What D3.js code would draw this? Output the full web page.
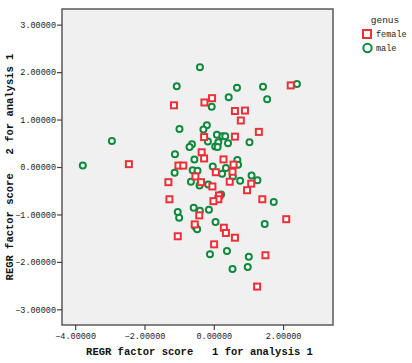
<!DOCTYPE html>
<html lang="en">
<head>
<meta charset="utf-8">
<title>REGR factor scores by genus</title>
<script src="https://d3js.org/d3.v7.min.js"></script>
<style>
  body { margin: 0; background: #fff; }
  .tick text { font-family: "Liberation Mono", "DejaVu Sans Mono", monospace; font-size: 8.5px; fill: #222; }
  .title { font-family: "Liberation Mono", monospace; font-size: 10.5px; font-weight: bold; fill: #111; }
  .legend text { font-family: "Liberation Mono", monospace; font-size: 8.5px; fill: #222; }
</style>
</head>
<body>
<svg class="chart"></svg>
<script>
// factor scores
var femaleX = [-2.45, -1.15, -0.27, -0.05, 2.22, 0.61, 0.90, 0.78, 1.30, 0.61, -0.28, -0.35, -0.28, 0.28,
  -1.02, -0.88, 0.57, 0.06, 0.54, -0.53, -1.31, -0.37, -0.04, 0.46, 1.08, 0.96, 1.40, 0.15, 0.13, -0.01,
  -1.28, -0.42, -0.55, 0.29, 0.35, 0.61, -1.04, 2.09, 0.01, 1.49, 1.25];
var femaleY = [0.06, 1.30, 1.36, 1.45, 1.72, 1.18, 1.19, 0.98, 0.74, 0.64, 0.63, 0.31, 0.18, 0.16,
  0.03, 0.03, 0.05, -0.11, -0.10, -0.20, -0.32, -0.32, -0.41, -0.31, -0.35, -0.49, -0.68, -0.60, -0.68, -0.72,
  -0.68, -1.02, -1.21, -1.28, -1.39, -1.49, -1.46, -1.10, -1.63, -1.86, -2.52];

var maleX = [-3.78, -2.94, -0.40, -1.07, 0.67, 1.42, 2.40, 0.43, 1.54, -0.06, -0.99, -0.20, -0.30, 0.09,
  0.25, 0.33, -0.17, 0.13, 0.41, 1.03, -0.63, -0.70, 0.04, 0.11, -1.12, -0.56, 0.68, 0.70, -0.03, 0.35,
  -0.61, -0.47, -1.13, 0.24, 0.55, 1.09, 0.76, 1.26, -0.66, -0.41, -0.16, 1.73, 0.21, -0.58, -0.40, -0.14,
  -1.04, -1.00, 0.05, -0.53, -0.48, 1.47, -0.11, 0.38, 1.01, 0.54, 0.98];
var maleY = [0.03, 0.55, 2.10, 1.70, 1.67, 1.69, 1.75, 1.47, 1.43, 1.27, 0.80, 0.88, 0.79, 0.68,
  0.65, 0.65, 0.54, 0.52, 0.50, 0.52, 0.48, 0.42, 0.43, 0.42, 0.27, 0.16, 0.15, 0.05, 0.01, -0.02,
  -0.07, -0.08, -0.12, -0.14, -0.20, -0.18, -0.29, -0.28, -0.31, -0.39, -0.37, -0.74, -0.58, -0.86, -0.92, -0.90,
  -0.95, -1.07, -1.16, -1.26, -1.31, -1.20, -1.84, -1.77, -1.89, -2.15, -2.11];

var xTicks = [-4, -2, 0, 2];
var yTicks = [-3, -2, -1, 0, 1, 2, 3];
var genus = ["female", "male"];

var red = "#ee2f38", green = "#0e8a3d";

var width = 412, height = 363;
var plot = {left: 62, top: 9, right: 333, bottom: 325};

var svg = d3.select(".chart")
  .attr("width", width)
  .attr("height", height);

var x = d3.scaleLinear().domain([-4.38, 3.44]).range([plot.left, plot.right]);
var y = d3.scaleLinear().domain([-3.33, 3.33]).range([plot.bottom, plot.top]);

//plot background
svg.append("rect")
  .attr("x", plot.left)
  .attr("y", plot.top)
  .attr("width", plot.right - plot.left)
  .attr("height", plot.bottom - plot.top)
  .attr("fill", "#f0f0f0")
  .attr("stroke", "#5a5a5a")
  .attr("stroke-width", 1.5);

var fmt = d3.format(".5f");

//axes
var xAxis = svg.append("g")
  .attr("transform", "translate(0," + plot.bottom + ")")
  .call(d3.axisBottom(x).tickValues(xTicks).tickSize(5).tickPadding(3).tickFormat(fmt));
var yAxis = svg.append("g")
  .attr("transform", "translate(" + plot.left + ",0)")
  .call(d3.axisLeft(y).tickValues(yTicks).tickSize(5).tickPadding(1).tickFormat(fmt));
[xAxis, yAxis].forEach(function(a){
  a.select(".domain").remove();
  a.selectAll(".tick line").attr("stroke", "#444").attr("stroke-width", 1.2);
});

//points
var females = femaleX.map(function(v, i){ return {x: v, y: femaleY[i]}; });
var males = maleX.map(function(v, i){ return {x: v, y: maleY[i]}; });

svg.append("g").selectAll("circle")
  .data(males)
  .enter().append("circle")
  .attr("cx", function(d){ return x(d.x); })
  .attr("cy", function(d){ return y(d.y); })
  .attr("r", 3)
  .attr("fill", "#fff")
  .attr("stroke", green)
  .attr("stroke-width", 2);

svg.append("g").selectAll("rect")
  .data(females)
  .enter().append("rect")
  .attr("x", function(d){ return x(d.x) - 3; })
  .attr("y", function(d){ return y(d.y) - 3; })
  .attr("width", 6)
  .attr("height", 6)
  .attr("fill", "#fff")
  .attr("stroke", red)
  .attr("stroke-width", 2);

//titles
svg.append("text")
  .attr("class", "title")
  .attr("x", (plot.left + plot.right) / 2 + 2)
  .attr("y", 355)
  .attr("text-anchor", "middle")
  .attr("xml:space", "preserve")
  .text("REGR factor score   1 for analysis 1");

svg.append("text")
  .attr("class", "title")
  .attr("transform", "translate(13," + ((plot.top + plot.bottom) / 2) + ") rotate(-90)")
  .attr("text-anchor", "middle")
  .attr("xml:space", "preserve")
  .text("REGR factor score   2 for analysis 1");

//legend
var legend = svg.append("g").attr("class", "legend");
legend.append("text")
  .attr("x", 385).attr("y", 23)
  .attr("text-anchor", "middle")
  .style("font-size", "9.5px")
  .text("genus");
legend.append("rect")
  .attr("x", 363).attr("y", 30).attr("width", 8).attr("height", 8)
  .attr("fill", "#fff").attr("stroke", red).attr("stroke-width", 2);
legend.append("circle")
  .attr("cx", 367.5).attr("cy", 48).attr("r", 4.2)
  .attr("fill", "#fff").attr("stroke", green).attr("stroke-width", 2);
legend.selectAll(".lab")
  .data(genus)
  .enter().append("text")
  .attr("class", "lab")
  .attr("x", 376)
  .attr("y", function(d, i){ return 37 + i * 13.5; })
  .text(function(d){ return d; });
</script>
</body>
</html>
